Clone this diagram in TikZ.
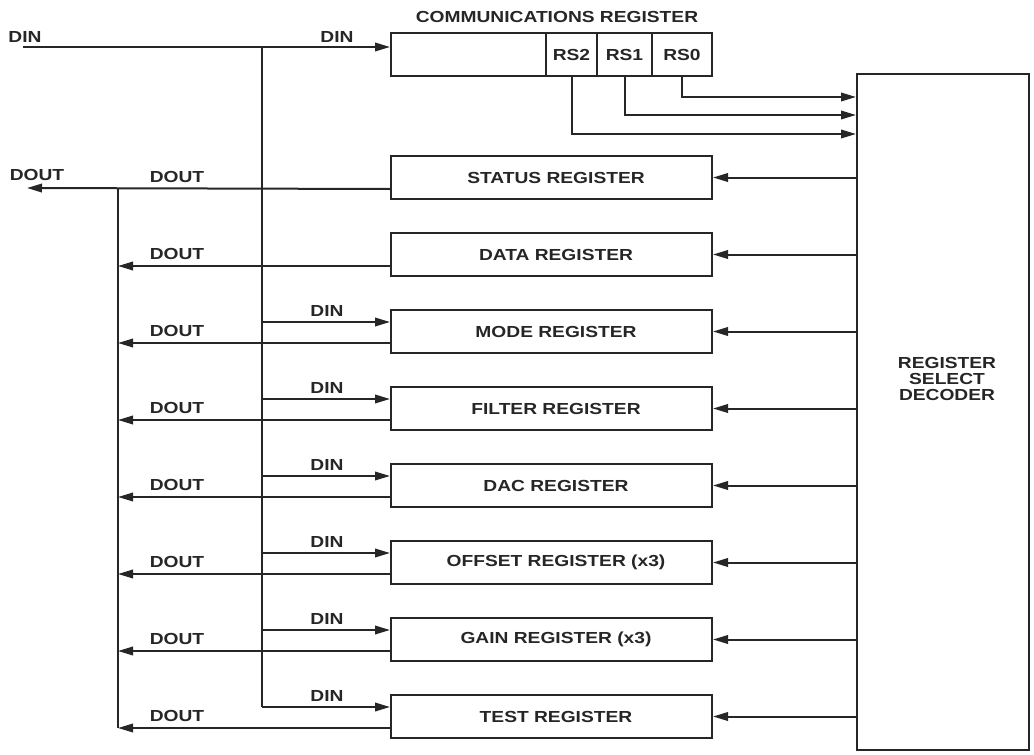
\documentclass[tikz,border=0pt]{standalone}
\usepackage{fontspec}
\newfontfamily\lblfont{Liberation Sans Bold}[FakeStretch=1.2]
\usetikzlibrary{arrows.meta}
\definecolor{ink}{HTML}{262626}
\tikzset{
  lbl/.style={font=\lblfont\fontsize{16}{16}\selectfont, text=ink, inner sep=0pt},
  regbox/.style={draw=ink, line width=2pt, minimum width=321pt, minimum height=43pt, inner sep=0pt, font=\lblfont\fontsize{16}{16}\selectfont, text=ink},
  cell/.style={draw=ink, line width=2pt, minimum height=43pt, inner sep=0pt, font=\lblfont\fontsize{16}{16}\selectfont, text=ink},
  wire/.style={draw=ink, line width=2pt},
  arr/.style={wire, -{Triangle[length=15pt,width=8.5pt]}},
}
\begin{document}
\begin{tikzpicture}[x=1pt,y=-1pt]
\useasboundingbox (0,0) rectangle (1034,755);
% communications register
\node[lbl] (commtitle) at (557,17) {COMMUNICATIONS REGISTER};
\node[regbox] (comm) at (551.5,54.5) {};
\node[cell, minimum width=51pt] (rs2) at (571.5,54.5) {RS2};
\node[cell, minimum width=55pt] (rs1) at (624.5,54.5) {RS1};
\node[cell, minimum width=60pt] (rs0) at (682,54.5) {RS0};
% decoder
\node[draw=ink, line width=2pt, minimum width=172pt, minimum height=676pt, inner sep=0pt] (dec) at (943,412) {};
\node[lbl, align=center] (declbl) at (947,379) {REGISTER\\SELECT\\DECODER};
% RS lines
\coordinate (y0) at (0,97);
\coordinate (y1) at (0,115);
\coordinate (y2) at (0,134);
\draw[arr] (rs0.south) |- (dec.west |- y0);
\draw[arr] (rs1.south) |- (dec.west |- y1);
\draw[arr] (rs2.south) |- (dec.west |- y2);
% DIN input
\coordinate (dinin) at (23,47);
\coordinate (dintop) at (262,47);
\coordinate (dinbot) at (262,707);
\node[lbl] (dinl) at (25,37) {DIN};
\node[lbl] (dinm) at (337,37) {DIN};
\draw[arr] (dinin) -- (comm.west |- dinin);
\draw[wire] (dintop) -- (dinbot);
% DOUT bus
\coordinate (douttop) at (118,188);
\coordinate (doutbot) at (118,728);
\coordinate (doutout) at (27,188);
\draw[wire] (douttop) -- (doutbot);
\node[lbl] (doutl) at (37,175) {DOUT};
% registers
\foreach \n/\t/\lab/\din in {
  status/156/STATUS REGISTER/0,
  data/233/DATA REGISTER/0,
  mode/310/MODE REGISTER/1,
  filter/387/FILTER REGISTER/1,
  dac/464/DAC REGISTER/1,
  offset/541/OFFSET REGISTER (x3)/1,
  gain/618/GAIN REGISTER (x3)/1,
  test/695/TEST REGISTER/1}{
  \node[regbox] (\n) at (551.5,{\t+21.5}) {\hspace*{9pt}\raisebox{-2pt}{\lab}};
  \draw[arr] (dec.west |- \n.east) -- (\n.east);
  \coordinate (\n-dout) at (118,{\t+33});
  \node[lbl] (\n-doutlbl) at (177,{\t+21}) {DOUT};
  \ifnum\din=1
    \coordinate (\n-din) at (262,{\t+12});
    \draw[arr] (\n-din) -- (\n.west |- \n-din);
    \node[lbl] (\n-dinlbl) at (327,{\t+1}) {DIN};
  \fi
}
\draw[arr] (status.west |- status-dout) -- (doutout);
\foreach \n in {data,mode,filter,dac,offset,gain,test}{
  \draw[arr] (\n.west |- \n-dout) -- (\n-dout);
}
\end{tikzpicture}
\end{document}
